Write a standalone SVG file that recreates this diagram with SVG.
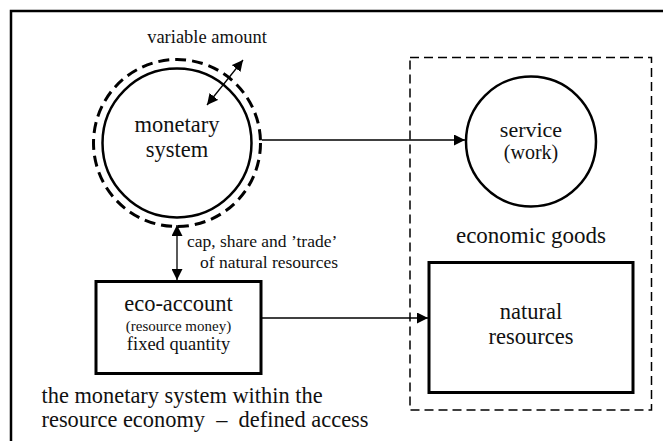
<svg xmlns="http://www.w3.org/2000/svg" width="663" height="441" viewBox="0 0 663 441">
<style>
text{font-family:'Liberation Serif','Times New Roman',serif;fill:#111;}
.node{stroke:#000;}
.conn{stroke:#000;stroke-width:1.3;fill:none;}
</style>
<defs>
<marker id="ah" viewBox="0 0 10 10" refX="10" refY="5" markerWidth="11" markerHeight="11" markerUnits="userSpaceOnUse" orient="auto-start-reverse">
<path d="M0,0 L10,5 L0,10 z" fill="#000"/>
</marker>
</defs>
<rect width="663" height="441" fill="#fff"/>
<path d="M11,441 V11 H663" fill="none" stroke="#000" stroke-width="2.5"/>
<g id="goods-box">
<rect x="410" y="57.5" width="241.5" height="352.5" fill="none" stroke="#000" stroke-width="1.5" stroke-dasharray="9,5"/>
<text x="531" y="243" font-size="23" text-anchor="middle">economic goods</text>
</g>
<g id="monetary-system">
<circle cx="177" cy="143" r="83.5" fill="none" stroke="#000" stroke-width="3" stroke-dasharray="11,6"/>
<circle class="node" cx="177" cy="143" r="74.5" stroke-width="2.5" fill="none"/>
<text x="177" y="132" font-size="22.5" text-anchor="middle">monetary</text>
<text x="177" y="156.5" font-size="22.5" text-anchor="middle">system</text>
</g>
<g id="service">
<circle class="node" cx="531" cy="141.5" r="65" stroke-width="2.5" fill="#fff"/>
<text x="531" y="136.5" font-size="22" text-anchor="middle">service</text>
<text x="531" y="158.5" font-size="20" text-anchor="middle">(work)</text>
</g>
<g id="eco-account">
<rect class="node" x="96" y="281.5" width="165" height="92" stroke-width="3" fill="#fff"/>
<text x="178.5" y="310.5" font-size="22.5" text-anchor="middle">eco-account</text>
<text x="178.5" y="330.5" font-size="15" text-anchor="middle">(resource money)</text>
<text x="178.5" y="350" font-size="18.5" text-anchor="middle">fixed quantity</text>
</g>
<g id="natural-resources">
<rect class="node" x="429" y="262.5" width="204" height="130" stroke-width="3" fill="#fff"/>
<text x="531" y="319" font-size="22.5" text-anchor="middle">natural</text>
<text x="531" y="344" font-size="22.5" text-anchor="middle">resources</text>
</g>
<g id="connectors">
<line class="conn" x1="262" y1="140" x2="465" y2="140" marker-end="url(#ah)"/>
<line class="conn" x1="262" y1="318" x2="428" y2="318" marker-end="url(#ah)"/>
<line class="conn" x1="177" y1="225" x2="177" y2="280" stroke-width="1.8" marker-start="url(#ah)" marker-end="url(#ah)"/>
<line class="conn" x1="207" y1="105" x2="243" y2="60" stroke-width="2.2" marker-start="url(#ah)" marker-end="url(#ah)"/>
<text x="187" y="247" font-size="17.5">cap, share and ’trade’</text>
<text x="200" y="267.5" font-size="17.5">of natural resources</text>
<text x="207" y="43" font-size="18.5" text-anchor="middle">variable amount</text>
</g>
<g id="caption">
<text x="41.5" y="403" font-size="22.4">the monetary system within the</text>
<text x="41.5" y="427" font-size="22.4">resource economy &#160;– &#160;defined access</text>
</g>
</svg>
